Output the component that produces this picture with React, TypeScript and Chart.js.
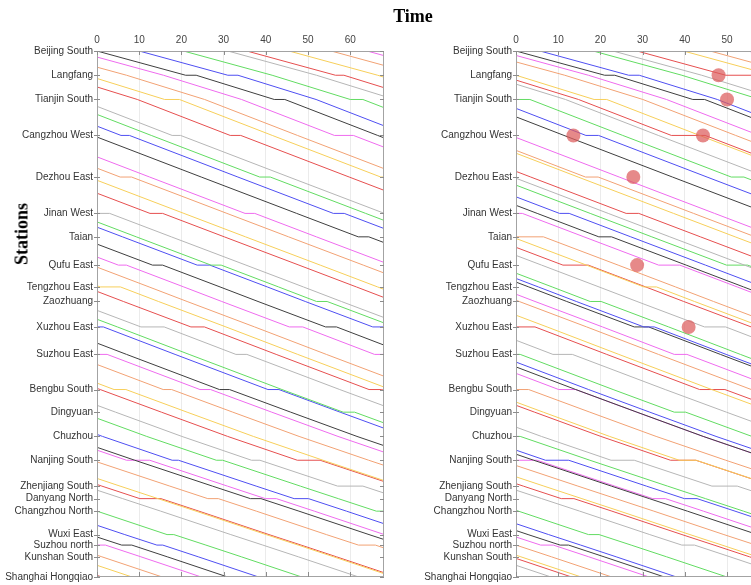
import React, { useEffect, useRef } from 'react';
import { Chart, registerables } from 'chart.js';

Chart.register(...registerables);

// ---------- data ----------
const stations = [
  'Beijing South', 'Langfang', 'Tianjin South', 'Cangzhou West', 'Dezhou East', 'Jinan West',
  'Taian', 'Qufu East', 'Tengzhou East', 'Zaozhuang', 'Xuzhou East', 'Suzhou East',
  'Bengbu South', 'Dingyuan', 'Chuzhou', 'Nanjing South', 'Zhenjiang South', 'Danyang North',
  'Changzhou North', 'Wuxi East', 'Suzhou north', 'Kunshan South', 'Shanghai Hongqiao',
];
const stationKm = [0, 60, 120, 209, 312, 402, 460, 530, 584, 620, 683, 751, 838, 894, 954, 1013, 1077, 1108, 1139, 1197, 1223, 1252, 1302];
// running minutes between consecutive stations
const sectionMinutes = [21, 18.5, 22, 25.7, 22.6, 14.6, 17.7, 13.6, 9, 16, 17, 22, 14.5, 15.7, 16.5, 18.4, 9, 9, 16.6, 7.6, 8.4, 14.3];

const timeTicks = [0, 10, 20, 30, 40, 50, 60];
const timeMax = 68;

// train colours in departure order
const trainColors = ['#3f3f3f', '#4f4ff2', '#62dc62', '#b6b6b6', '#e64f4f', '#f7cf5a', '#f2a274', '#ef6bef'];

type Stop = [number, number];

// left panel: trains already on the line at time 0 (km position), newest first
const leftRunningKm = [15, 40, 68, 89, 137, 157, 186, 213, 262, 290, 320, 352, 402, 423, 436, 478, 510, 535, 581, 595, 642, 664, 683, 723, 751, 776, 822, 835, 877, 909, 949, 981, 988, 1017, 1058, 1073, 1087, 1139, 1174, 1203, 1223, 1248, 1273, 1298];
const leftRunningStops: Stop[][] = [
  [[3, 4.5]], [], [[2, 3.5], [4, 2.7]], [[3, 2.5]], [[3, 2]], [[4, 2.5]], [[3, 2], [5, 2.6]], [[6, 2.5]],
  [[5, 2.3]], [[4, 2.7]], [], [[5, 3]], [[5, 3]], [[7, 2.4], [9, 2.5]], [[7, 3], [10, 2.5]], [[7, 2.4], [10, 2.6]],
  [[7, 1.9], [10, 3.2], [11, 2]], [], [[8, 4.8]], [[10, 3.2], [12, 3]], [[10, 5.5], [11, 2.6]], [[13, 2.7]], [[10, 1.5], [12, 2.6]], [[12, 2.4]],
  [[11, 2.4], [12, 2.5]], [[12, 2]], [[12, 2.8]], [[15, 5.4]], [[15, 2], [16, 6]], [[15, 1.5], [18, 4.5]], [[15, 1.5], [17, 3.4]], [[17, 2.5]],
  [[15, 5.5], [17, 2.6]], [[17, 2.5], [20, 4]], [], [[17, 5]], [], [[19, 1.6]], [[20, 1.4]], [[20, 2.4]],
  [[20, 2]], [], [], [],
];
// left panel: departures from Beijing South (minutes)
const leftDepartures = [0, 10, 20.5, 31, 35.5, 45.5, 55.5, 64];
const leftDepartureStops: Stop[][] = [[[1, 2.5], [2, 2.5]], [[1, 2.4]], [[2, 3]], [], [[1, 2]], [], [], []];

// right panel
const rightRunningKm = [11, 27, 60, 72, 82, 120, 142, 163, 214, 246, 253, 298, 315, 332, 361, 382, 402, 460, 464, 486, 506, 550, 563, 572, 602, 617, 654, 683, 716, 751, 770, 782, 798, 838, 869, 877, 931, 954, 988, 998, 1013, 1026, 1054, 1071, 1087, 1137, 1170, 1187, 1203, 1223, 1248, 1256, 1273];
const rightRunningStops: Stop[][] = [
  [[3, 8]], [], [[2, 3]], [[3, 8]], [], [[2, 3.3], [4, 3]], [[3, 3]], [],
  [], [[4, 3]], [], [[5, 3]], [], [[7, 5]], [[5, 2.3]], [[6, 3]],
  [[5, 1.5], [7, 5]], [[6, 6.5]], [[8, 3]], [[7, 6]], [[10, 5]], [[9, 2.6]], [[10, 2.5]], [[10, 3.4]],
  [[11, 3]], [], [], [[10, 4.5], [12, 6]], [[11, 4.6]], [[11, 1], [13, 2.7]], [], [],
  [[12, 4]], [[12, 3]], [[15, 4]], [[15, 6]], [[15, 5.5], [16, 6]], [[14, 1]], [[15, 5.5], [17, 3]], [],
  [[15, 5], [17, 3]], [], [], [[17, 3]], [[20, 3]], [[19, 2.5]], [], [[20, 2]],
  [[20, 3]], [], [], [], [],
];
const rightDepartures = [0, 5.7, 18.3, 23, 28.7, 39.7, 46, 55];
const rightDepartureStops: Stop[][] = [[[1, 2.4], [2, 2.8]], [[1, 2.5]], [], [], [[1, 8]], [], [], []];

// conflict markers (right panel)
const conflictTimes = [48, 50, 13.6, 44.3, 27.8, 28.7, 40.9];
const conflictStations = [1, 2, 3, 3, 4, 7, 10];

// ---------- timetable model ----------
function runTrain(p0: number, t0: number, stops: Stop[], tMax: number) {
  const dwell = new Map<number, number>(stops);
  const pts: { x: number; y: number }[] = [];
  let s = 0;
  while (s < stationKm.length - 1 && stationKm[s + 1] <= p0 + 0.5) s++;
  let t = t0;
  let p = p0;
  pts.push({ x: t, y: p });
  if (Math.abs(stationKm[s] - p) < 0.6 && dwell.has(s)) {
    t += dwell.get(s)!;
    pts.push({ x: t, y: p });
  }
  while (s < stationKm.length - 1 && t < tMax + 2) {
    const v = (stationKm[s + 1] - stationKm[s]) / sectionMinutes[s];
    t += (stationKm[s + 1] - p) / v;
    p = stationKm[s + 1];
    s++;
    pts.push({ x: t, y: p });
    if (dwell.has(s)) {
      t += dwell.get(s)!;
      pts.push({ x: t, y: p });
    }
  }
  return pts;
}

function buildDatasets(runningKm: number[], runningStops: Stop[][], deps: number[], depStops: Stop[][]) {
  const ds: any[] = [];
  runningKm.forEach((km, i) => {
    const k = -(i + 1);
    ds.push({
      data: runTrain(km, 0, runningStops[i] || [], timeMax),
      borderColor: trainColors[((k % 8) + 8) % 8],
      borderWidth: 1,
      pointRadius: 0,
      fill: false,
    });
  });
  deps.forEach((t0, j) => {
    ds.push({
      data: runTrain(0, t0, depStops[j] || [], timeMax),
      borderColor: trainColors[j % 8],
      borderWidth: 1,
      pointRadius: 0,
      fill: false,
    });
  });
  return ds;
}

const framePlugin = {
  id: 'frame',
  afterDatasetsDraw(chart: any) {
    const { ctx, chartArea } = chart;
    const { left, right, top, bottom } = chartArea;
    ctx.save();
    ctx.strokeStyle = '#a3a3a3';
    ctx.lineWidth = 1;
    ctx.strokeRect(Math.round(left) + 0.5, Math.round(top) + 0.5, Math.round(right - left) - 1, Math.round(bottom - top) - 1);
    ctx.strokeStyle = '#8c8c8c';
    const xs = chart.scales.x;
    ctx.beginPath();
    for (const tk of xs.ticks) {
      const px = Math.round(xs.getPixelForValue(tk.value)) + 0.5;
      ctx.moveTo(px, bottom);
      ctx.lineTo(px, bottom - 5);
      ctx.moveTo(px, top);
      ctx.lineTo(px, top + 4);
    }
    const ys = chart.scales.y;
    for (const tk of ys.ticks) {
      const py = Math.round(ys.getPixelForValue(tk.value)) + 0.5;
      ctx.moveTo(left - 3, py);
      ctx.lineTo(left + 3, py);
      ctx.moveTo(right, py);
      ctx.lineTo(right - 4, py);
    }
    ctx.stroke();
    ctx.restore();
  },
};

const tickFont = { family: '"Liberation Sans", Arial, sans-serif', size: 10 };

function makeConfig(datasets: any[], axisWidth: number, padRight: number) {
  return {
    type: 'line' as const,
    data: { datasets },
    options: {
      animation: false as const,
      responsive: false,
      maintainAspectRatio: false,
      devicePixelRatio: 1,
      layout: { padding: { left: 0, right: padRight, top: 0, bottom: 1 } },
      plugins: { legend: { display: false }, tooltip: { enabled: false }, title: { display: false } },
      elements: { line: { tension: 0 }, point: { radius: 0 } },
      scales: {
        x: {
          type: 'linear' as const,
          position: 'top' as const,
          min: 0,
          max: timeMax,
          afterBuildTicks: (s: any) => {
            s.ticks = timeTicks.map((v) => ({ value: v }));
          },
          ticks: { font: tickFont, color: '#444', padding: 5, maxRotation: 0, autoSkip: false },
          grid: { color: '#ebebeb', drawTicks: false, lineWidth: 1 },
          border: { display: false },
          afterFit: (s: any) => {
            s.height = 51;
          },
        },
        y: {
          type: 'linear' as const,
          reverse: true,
          min: 0,
          max: stationKm[stationKm.length - 1],
          afterBuildTicks: (s: any) => {
            s.ticks = stationKm.map((v) => ({ value: v }));
          },
          ticks: {
            font: tickFont,
            color: '#333',
            padding: 4,
            autoSkip: false,
            callback: (_v: any, i: number) => stations[i],
          },
          grid: { display: false, drawTicks: false },
          border: { display: false },
          afterFit: (s: any) => {
            s.width = axisWidth;
          },
        },
      },
    },
    plugins: [framePlugin],
  };
}

export default function App() {
  const leftRef = useRef<HTMLCanvasElement>(null);
  const rightRef = useRef<HTMLCanvasElement>(null);

  useEffect(() => {
    const leftDs = buildDatasets(leftRunningKm, leftRunningStops, leftDepartures, leftDepartureStops);
    const rightDs = buildDatasets(rightRunningKm, rightRunningStops, rightDepartures, rightDepartureStops);
    rightDs.unshift({
      type: 'scatter',
      order: -1,
      data: conflictTimes.map((t, i) => ({ x: t, y: stationKm[conflictStations[i]] })),
      showLine: false,
      pointRadius: 7,
      pointBackgroundColor: 'rgba(221, 92, 92, 0.72)',
      pointBorderWidth: 0,
      borderWidth: 0,
    });
    const c1 = new Chart(leftRef.current!, makeConfig(leftDs, 97, 6) as any);
    const c2 = new Chart(rightRef.current!, makeConfig(rightDs, 116, 7) as any);
    return () => {
      c1.destroy();
      c2.destroy();
    };
  }, []);

  return (
    <div style={{ position: 'fixed', left: 0, top: 0, width: 751, height: 585, overflow: 'hidden', background: '#fff' }}>
      <canvas ref={leftRef} width={390} height={587} style={{ position: 'absolute', left: 0, top: 0, width: 390, height: 587 }} />
      <canvas ref={rightRef} width={410} height={587} style={{ position: 'absolute', left: 400, top: 0, width: 410, height: 587 }} />
      <div
        style={{
          position: 'absolute',
          left: 363,
          width: 100,
          top: 6,
          textAlign: 'center',
          fontFamily: '"Liberation Serif", "Times New Roman", serif',
          fontWeight: 'bold',
          fontSize: 18,
          color: '#000',
        }}
      >
        Time
      </div>
      <div
        style={{
          position: 'absolute',
          left: 22,
          top: 234,
          transform: 'translate(-50%, -50%) rotate(-90deg)',
          fontFamily: '"Liberation Serif", "Times New Roman", serif',
          fontWeight: 'bold',
          fontSize: 18,
          color: '#000',
          whiteSpace: 'nowrap',
        }}
      >
        Stations
      </div>
    </div>
  );
}
